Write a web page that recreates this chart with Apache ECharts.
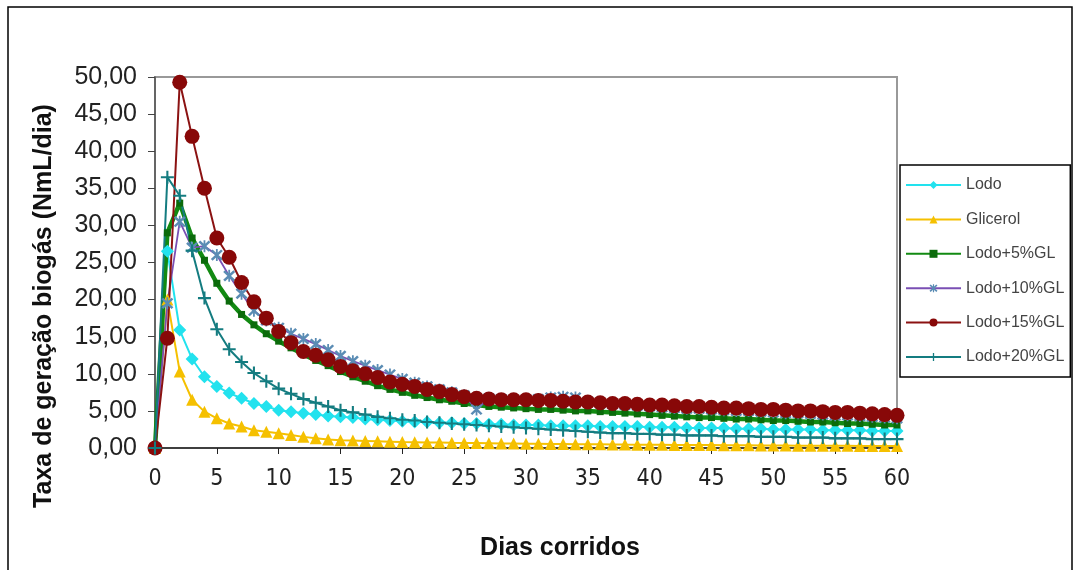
<!DOCTYPE html>
<html>
<head>
<meta charset="utf-8">
<script src="https://cdn.jsdelivr.net/npm/echarts@6/dist/echarts.min.js"></script>
<style>
  html, body { margin: 0; padding: 0; background: #fff; }
  #chart { width: 1075px; height: 570px; }
</style>
</head>
<body>
<div id="chart"></div>
<script>
// dias corridos
const days = [0, 1, 2, 3, 4, 5, 6, 7, 8, 9, 10, 11, 12, 13, 14, 15, 16, 17, 18, 19, 20,
  21, 22, 23, 24, 25, 26, 27, 28, 29, 30, 31, 32, 33, 34, 35, 36, 37, 38, 39, 40,
  41, 42, 43, 44, 45, 46, 47, 48, 49, 50, 51, 52, 53, 54, 55, 56, 57, 58, 59, 60]

const lodo = [0, 26.5, 15.9, 12.0, 9.6, 8.3, 7.4, 6.7, 6.0, 5.6, 5.1, 4.9, 4.7, 4.5, 4.3, 4.2, 4.1, 3.9, 3.8, 3.7, 3.6,
  3.5, 3.5, 3.4, 3.4, 3.3, 3.3, 3.2, 3.2, 3.1, 3.1, 3.1, 3.0, 3.0, 3.0, 3.0, 2.9, 2.9, 2.9, 2.9, 2.8,
  2.8, 2.8, 2.7, 2.7, 2.7, 2.7, 2.6, 2.6, 2.6, 2.5, 2.5, 2.5, 2.5, 2.4, 2.4, 2.4, 2.4, 2.3, 2.3, 2.3]

const glicerol = [0, 20.0, 10.3, 6.5, 4.9, 4.0, 3.3, 2.9, 2.4, 2.2, 2.0, 1.75, 1.5, 1.3, 1.15, 1.05, 1.0, 0.95, 0.9, 0.85, 0.8,
  0.78, 0.75, 0.73, 0.7, 0.68, 0.66, 0.64, 0.62, 0.6, 0.58, 0.57, 0.55, 0.54, 0.52, 0.5, 0.49, 0.48, 0.46, 0.45, 0.44,
  0.43, 0.42, 0.41, 0.4, 0.39, 0.38, 0.37, 0.36, 0.35, 0.34, 0.33, 0.32, 0.31, 0.3, 0.3, 0.29, 0.28, 0.27, 0.27, 0.26]

const lodo5 = [0, 29.0, 33.0, 28.3, 25.3, 22.2, 19.8, 18.0, 16.6, 15.4, 14.4, 13.5, 12.6, 11.8, 11.1, 10.3, 9.6, 9.0, 8.4, 7.9, 7.5,
  7.1, 6.8, 6.5, 6.3, 6.0, 5.8, 5.6, 5.5, 5.4, 5.3, 5.2, 5.2, 5.1, 5.0, 5.0, 4.9, 4.8, 4.7, 4.6, 4.5,
  4.4, 4.3, 4.2, 4.1, 4.1, 4.0, 3.9, 3.9, 3.8, 3.7, 3.7, 3.6, 3.5, 3.5, 3.4, 3.3, 3.3, 3.2, 3.1, 3.1]

const lodo10 = [0, 19.5, 30.5, 27.0, 27.2, 26.0, 23.2, 20.8, 18.5, 17.2, 16.2, 15.4, 14.7, 14.0, 13.2, 12.4, 11.7, 11.1, 10.5, 9.9, 9.3,
  8.8, 8.3, 7.9, 7.5, 7.1, 5.2, 6.7, 6.6, 6.5, 6.5, 6.6, 6.8, 6.9, 6.8, 6.2, 6.0, 5.9, 5.8, 5.7, 5.6,
  5.5, 5.4, 5.3, 5.3, 5.2, 5.1, 5.0, 5.0, 4.9, 4.8, 4.7, 4.7, 4.6, 4.5, 4.4, 4.4, 4.3, 4.2, 4.1, 4.0]

const lodo15 = [0, 14.8, 49.3, 42.0, 35.0, 28.3, 25.7, 22.3, 19.7, 17.5, 15.7, 14.2, 13.0, 12.5, 11.9, 11.0, 10.4, 10.0, 9.5, 8.9, 8.6,
  8.3, 7.9, 7.6, 7.2, 6.9, 6.7, 6.6, 6.5, 6.5, 6.5, 6.4, 6.4, 6.3, 6.2, 6.2, 6.1, 6.0, 6.0, 5.9, 5.8,
  5.8, 5.7, 5.6, 5.6, 5.5, 5.4, 5.4, 5.3, 5.2, 5.2, 5.1, 5.0, 5.0, 4.9, 4.8, 4.8, 4.7, 4.6, 4.5, 4.4]

const lodo20 = [0, 36.5, 34.0, 26.6, 20.2, 16.0, 13.3, 11.6, 10.1, 9.0, 8.0, 7.3, 6.6, 6.1, 5.6, 5.1, 4.8, 4.5, 4.2, 4.0, 3.8,
  3.7, 3.5, 3.4, 3.3, 3.2, 3.1, 3.0, 2.9, 2.8, 2.7, 2.6, 2.5, 2.4, 2.3, 2.2, 2.1, 2.0, 2.0, 1.9, 1.9,
  1.8, 1.8, 1.7, 1.7, 1.7, 1.6, 1.6, 1.6, 1.5, 1.5, 1.5, 1.4, 1.4, 1.4, 1.3, 1.3, 1.3, 1.2, 1.2, 1.2]

const names = ['Lodo', 'Glicerol', 'Lodo+5%GL', 'Lodo+10%GL', 'Lodo+15%GL', 'Lodo+20%GL']

const starPath = 'path://M4.3,0H5.7V10H4.3Z M0.3,1.7L1.7,0.3L9.7,8.3L8.3,9.7Z M8.3,0.3L9.7,1.7L1.7,9.7L0.3,8.3Z'
const plusPath = 'path://M4.2,0H5.8V10H4.2Z M0,4.2H10V5.8H0Z'

const chart = echarts.init(document.getElementById('chart'))

function pairs(values) {
  return days.map((d, i) => [d, values[i]])
}

const option = {
  animation: false,
  backgroundColor: '#fff',
  grid: {
    left: 155,
    right: 178,
    top: 77,
    bottom: 122,
    show: true,
    borderColor: '#999',
    borderWidth: 2,
    backgroundColor: '#fff'
  },
  legend: {
    orient: 'vertical',
    left: 900,
    top: 165,
    padding: [12, 6, 12, 5],
    itemWidth: 55,
    itemHeight: 10,
    itemGap: 18.4,
    borderColor: '#000',
    borderWidth: 1.5,
    backgroundColor: '#fff',
    textStyle: {
      fontFamily: 'Liberation Sans, Arial, sans-serif',
      fontSize: 16,
      color: '#444'
    },
    data: names
  },
  xAxis: {
    type: 'value',
    min: 0,
    max: 60,
    interval: 5,
    axisLine: { show: true, onZero: false, lineStyle: { color: '#222', width: 1.5 } },
    axisTick: { show: true, length: 6, lineStyle: { color: '#222' } },
    splitLine: { show: false },
    axisLabel: {
      margin: 20,
      fontSize: 23,
      color: '#222',
      fontFamily: '"Liberation Sans Narrow", "Arial Narrow", "DejaVu Sans Condensed", sans-serif'
    }
  },
  yAxis: {
    type: 'value',
    min: 0,
    max: 50,
    interval: 5,
    axisLine: { show: true, lineStyle: { color: '#555', width: 1.5 } },
    axisTick: { show: true, length: 7, lineStyle: { color: '#444' } },
    splitLine: { show: false },
    axisLabel: {
      margin: 18,
      fontSize: 25,
      color: '#222',
      fontFamily: 'Liberation Sans, Arial, sans-serif',
      formatter: (v) => v.toFixed(2).replace('.', ',')
    }
  },
  graphic: [
    {
      type: 'rect',
      silent: true,
      z: -10,
      shape: { x: 8, y: 7, width: 1064, height: 580 },
      style: { fill: 'none', stroke: '#000', lineWidth: 1.5 }
    },
    {
      type: 'text',
      x: 44,
      y: 306,
      rotation: Math.PI / 2,
      style: {
        text: 'Taxa de geração biogás (NmL/dia)',
        font: 'bold 25px "Liberation Sans", Arial, sans-serif',
        fill: '#111',
        textAlign: 'center',
        textVerticalAlign: 'middle'
      }
    },
    {
      type: 'text',
      x: 560,
      y: 548,
      style: {
        text: 'Dias corridos',
        font: 'bold 25px "Liberation Sans", Arial, sans-serif',
        fill: '#111',
        textAlign: 'center',
        textVerticalAlign: 'middle'
      }
    }
  ],
  series: [
    {
      name: 'Lodo',
      type: 'line',
      data: pairs(lodo),
      symbol: 'diamond',
      symbolSize: 13,
      lineStyle: { color: '#22e2ee', width: 2 },
      itemStyle: { color: '#22e2ee' }
    },
    {
      name: 'Glicerol',
      type: 'line',
      data: pairs(glicerol),
      symbol: 'triangle',
      symbolSize: 12,
      lineStyle: { color: '#f5c000', width: 2 },
      itemStyle: { color: '#f5c000' }
    },
    {
      name: 'Lodo+5%GL',
      type: 'line',
      data: pairs(lodo5),
      symbol: 'rect',
      symbolSize: 7,
      lineStyle: { color: '#128a12', width: 4.5 },
      itemStyle: { color: '#0b6b0b' }
    },
    {
      name: 'Lodo+10%GL',
      type: 'line',
      data: pairs(lodo10),
      symbol: starPath,
      symbolSize: 12,
      lineStyle: { color: '#7a4fb4', width: 1.8 },
      itemStyle: { color: '#5a8cb4' }
    },
    {
      name: 'Lodo+15%GL',
      type: 'line',
      data: pairs(lodo15),
      symbol: 'circle',
      symbolSize: 15,
      lineStyle: { color: '#8b1212', width: 2 },
      itemStyle: { color: '#880808' }
    },
    {
      name: 'Lodo+20%GL',
      type: 'line',
      data: pairs(lodo20),
      symbol: plusPath,
      symbolSize: 13,
      lineStyle: { color: '#147c80', width: 2 },
      itemStyle: { color: '#147c80' }
    }
  ]
}

chart.setOption(option)
</script>
</body>
</html>
